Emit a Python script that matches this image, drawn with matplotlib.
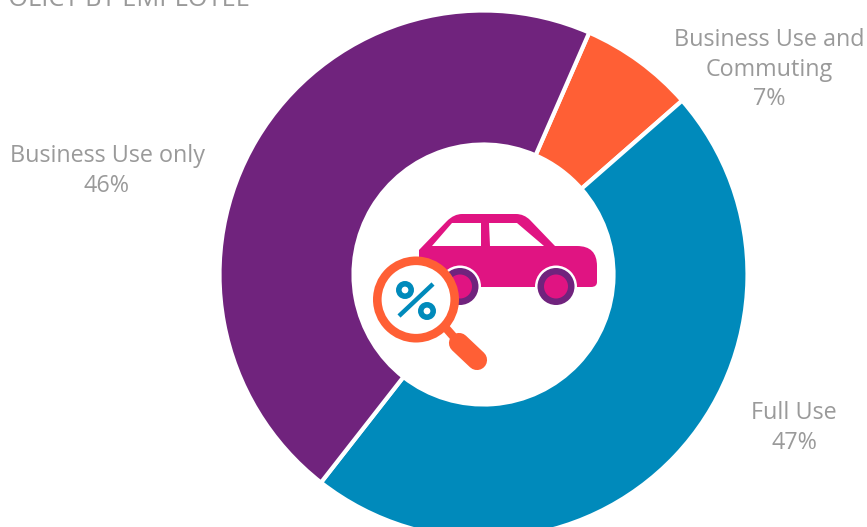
import matplotlib
matplotlib.use("Agg")
import matplotlib.pyplot as plt
from matplotlib.patches import Circle, Polygon, PathPatch
from matplotlib.path import Path

W, H = 867, 527

# Share of company cars by permitted use
categories = ["Business Use and\nCommuting", "Full Use", "Business Use only"]
shares = [7, 47, 46]
colors = ["#FF5F35", "#008ABB", "#70237D"]
heading = "POLICY BY EMPLOYEE"

GREY = "#9A9A9A"
PINK = "#E01482"
PURPLE = "#70237D"
ORANGE = "#FF5F35"
BLUE = "#008ABB"
FONT = "Open Sans"

fig = plt.figure(figsize=(W / 100, H / 100), dpi=100, facecolor="white")
ax = fig.add_axes([0, 0, 1, 1])


def Y(py):
    # Convert a top-down pixel row into the bottom-up axis coordinate
    return H - py


ax.pie(
    shares,
    colors=colors,
    startangle=66.4,
    counterclock=False,
    radius=264,
    center=(483.5, Y(274.5)),
    wedgeprops=dict(width=134, edgecolor="white", linewidth=3),
)
ax.set_xlim(0, W)
ax.set_ylim(0, H)
ax.set_aspect("equal")
ax.axis("off")

# Slice labels
label_spots = [(769, 69.5), (794, 428), (107, 171)]
for name, share, (px, py) in zip(categories, shares, label_spots):
    ax.text(px, Y(py), f"{name}\n{share}%", ha="center", va="center",
            fontsize=16.8, color=GREY, family=FONT, linespacing=1.3)

# Heading running off the top edge of the canvas
ax.text(250, Y(5.5), heading, ha="right", va="baseline", fontsize=18.3,
        color=GREY, family=FONT)

# Car icon in the hole of the ring
body = Path(
    [(419, 287), (419, 250), (447, 221), (454, 214), (462, 214), (516, 214),
     (524, 214), (530, 220), (555, 246), (577, 246), (597, 246), (597, 266),
     (597, 282), (597, 287), (591, 287), (419, 287), (419, 287)],
    [Path.MOVETO, Path.LINETO, Path.LINETO, Path.CURVE3, Path.CURVE3,
     Path.LINETO, Path.CURVE3, Path.CURVE3, Path.LINETO, Path.LINETO,
     Path.CURVE3, Path.CURVE3, Path.LINETO, Path.CURVE3, Path.CURVE3,
     Path.LINETO, Path.CLOSEPOLY],
)
flipped = Path([(x, Y(y)) for x, y in body.vertices], body.codes)
ax.add_patch(PathPatch(flipped, facecolor=PINK, edgecolor="none", zorder=5))

windows = [
    [(432, 246), (452, 223), (481, 223), (481, 246)],
    [(489, 223), (517, 223), (544, 246), (490, 246)],
]
for window in windows:
    ax.add_patch(Polygon([(x, Y(y)) for x, y in window], closed=True,
                         facecolor="white", edgecolor="none", zorder=6))

for cx in (460, 556):
    ax.add_patch(Circle((cx, Y(286.5)), 21, facecolor="white", zorder=6))
    ax.add_patch(Circle((cx, Y(286.5)), 18.5, facecolor=PURPLE, zorder=7))
    ax.add_patch(Circle((cx, Y(286.5)), 12, facecolor=PINK, zorder=8))

# Magnifying glass with a percent sign
ax.plot([445, 459], [Y(327), Y(343)], color=ORANGE, lw=6, zorder=9,
        solid_capstyle="butt")
ax.plot([459, 477], [Y(343), Y(360)], color=ORANGE, lw=14.5, zorder=9,
        solid_capstyle="round")
ax.add_patch(Circle((416, Y(299.5)), 38.7, facecolor="white", edgecolor=ORANGE,
                    linewidth=6.2, zorder=10))
ax.plot([399, 433], [Y(316), Y(284)], color=BLUE, lw=3.2, zorder=11,
        solid_capstyle="butt")
for cx, cy in ((405, 290), (427, 311)):
    ax.add_patch(Circle((cx, Y(cy)), 6.2, facecolor="white", edgecolor=BLUE,
                        linewidth=4, zorder=11))

fig.savefig("out.png", dpi=100, facecolor="white")
